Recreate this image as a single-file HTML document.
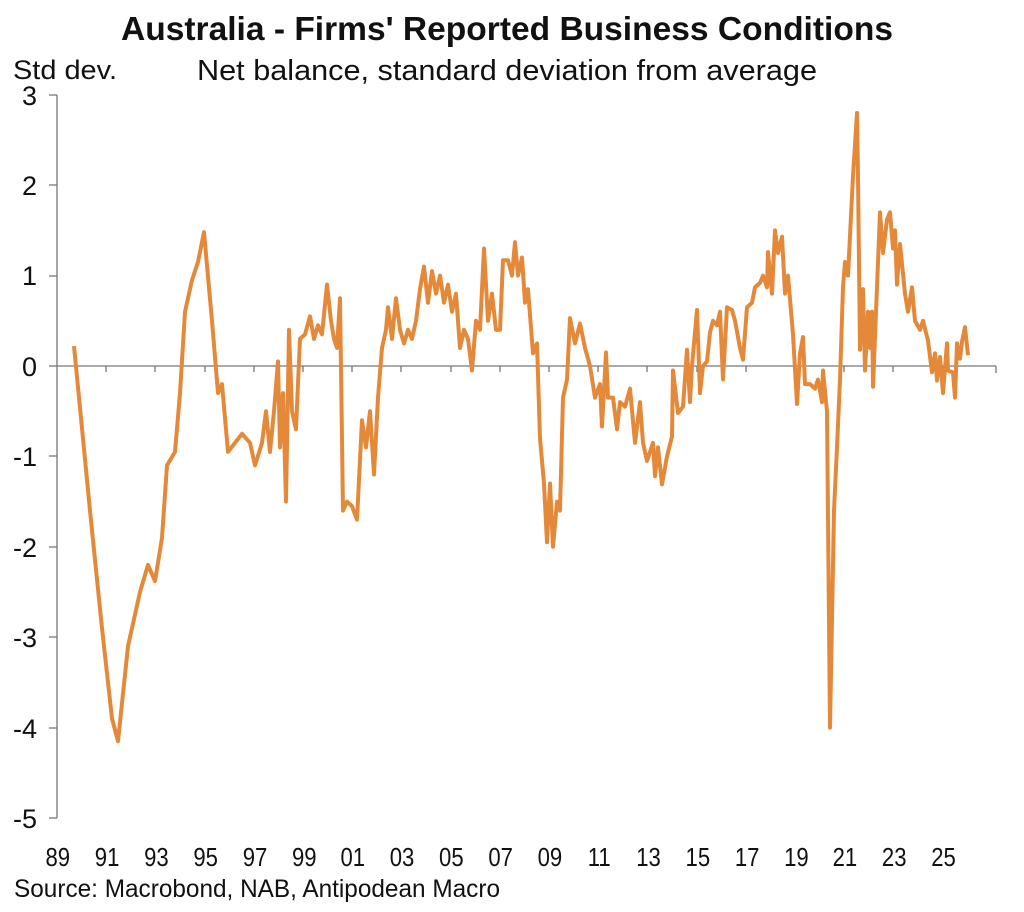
<!DOCTYPE html>
<html><head><meta charset="utf-8"><style>
body{margin:0;background:#fff;}
svg{display:block;font-family:"Liberation Sans",Arial,sans-serif;}
</style></head><body>
<svg width="1024" height="912" viewBox="0 0 1024 912" xmlns="http://www.w3.org/2000/svg">
<text x="507" y="40" text-anchor="middle" font-size="33" font-weight="bold" fill="#111" textLength="772" lengthAdjust="spacingAndGlyphs">Australia - Firms' Reported Business Conditions</text>
<text x="507" y="80" text-anchor="middle" font-size="29" fill="#111" textLength="620" lengthAdjust="spacingAndGlyphs">Net balance, standard deviation from average</text>
<text x="13" y="79" font-size="27" fill="#111" textLength="104" lengthAdjust="spacingAndGlyphs">Std dev.</text>
<g font-size="27" fill="#111" text-anchor="end">
<text x="37" y="105">3</text><text x="37" y="195">2</text><text x="37" y="285">1</text><text x="37" y="376">0</text>
<text x="37" y="466">-1</text><text x="37" y="557">-2</text><text x="37" y="647">-3</text><text x="37" y="738">-4</text><text x="37" y="828">-5</text>
</g>
<g stroke="#777" stroke-width="1.3" fill="none">
<line x1="57" y1="95" x2="57" y2="818"/>
<line x1="49" y1="95" x2="57" y2="95"/><line x1="49" y1="185" x2="57" y2="185"/><line x1="49" y1="276" x2="57" y2="276"/>
<line x1="49" y1="366" x2="57" y2="366"/><line x1="49" y1="456" x2="57" y2="456"/><line x1="49" y1="547" x2="57" y2="547"/>
<line x1="49" y1="637" x2="57" y2="637"/><line x1="49" y1="728" x2="57" y2="728"/><line x1="49" y1="818" x2="57" y2="818"/>
<line x1="57" y1="366" x2="996" y2="366"/>
<path d="M106 366v6M155 366v6M205 366v6M254 366v6M303 366v6M352 366v6M401 366v6M451 366v6M500 366v6M549 366v6M598 366v6M647 366v6M697 366v6M746 366v6M795 366v6M844 366v6M893 366v6M943 366v6M996 366v7"/>
</g>
<g font-size="26" fill="#111" text-anchor="middle" transform="scale(0.85,1)">
<text x="68" y="866">89</text><text x="126" y="866">91</text><text x="184" y="866">93</text><text x="242" y="866">95</text>
<text x="300" y="866">97</text><text x="358" y="866">99</text><text x="415" y="866">01</text><text x="473" y="866">03</text>
<text x="531" y="866">05</text><text x="589" y="866">07</text><text x="647" y="866">09</text><text x="705" y="866">11</text>
<text x="763" y="866">13</text><text x="821" y="866">15</text><text x="879" y="866">17</text><text x="937" y="866">19</text>
<text x="994" y="866">21</text><text x="1052" y="866">23</text><text x="1110" y="866">25</text>
</g>
<text x="14" y="897" font-size="25" fill="#111" textLength="486" lengthAdjust="spacingAndGlyphs">Source: Macrobond, NAB, Antipodean Macro</text>
<g transform="translate(0,366) scale(1,-90.4)">
<polyline fill="none" stroke="#E4893A" stroke-width="4" stroke-linejoin="round" vector-effect="non-scaling-stroke" points="
74,0.22 90,-1.6 102,-2.9 112,-3.9 118,-4.15 128,-3.1 140,-2.5 148,-2.2 155,-2.38 162,-1.9 167,-1.1 175,-0.95 180,-0.3 185,0.6 192,0.95 198,1.15 204,1.48 212,0.5 218,-0.3 222,-0.2 228,-0.95 235,-0.85 242,-0.75 250,-0.85 255,-1.1 262,-0.85 266,-0.5 270,-0.95 274,-0.5 278,0.05 280,-0.9 283,-0.3 286,-1.5 289,0.4 292,-0.5 296,-0.7 300,0.3 305,0.35 310,0.55 314,0.3 318,0.45 322,0.35 327,0.9 331,0.5 334,0.3 337,0.2 340,0.75 343,-1.6 347,-1.5 352,-1.55 357,-1.7 362,-0.6 366,-0.9 370,-0.5 374,-1.2 378,-0.35 382,0.2 386,0.4 388,0.65 392,0.3 396,0.75 400,0.4 404,0.25 408,0.4 412,0.3 416,0.5 420,0.85 424,1.1 428,0.7 432,1.05 436,0.8 440,1.0 444,0.7 448,0.9 452,0.6 456,0.8 460,0.2 464,0.4 468,0.3 472,-0.05 476,0.5 480,0.4 484,1.3 488,0.5 492,0.8 496,0.4 500,0.4 503,1.17 508,1.17 512,1.0 515,1.37 518,1.0 522,1.2 525,0.7 528,0.85 533,0.14 537,0.25 540,-0.8 544,-1.3 547,-1.95 550,-1.3 553,-2.0 557,-1.5 560,-1.6 563,-0.35 567,-0.15 570,0.53 575,0.25 580,0.47 585,0.2 590,0.0 595,-0.35 600,-0.2 602,-0.67 606,0.15 608,-0.35 613,-0.35 617,-0.7 620,-0.4 625,-0.45 630,-0.25 635,-0.85 640,-0.4 643,-0.85 647,-1.05 653,-0.85 655,-1.22 658,-0.9 662,-1.31 667,-1.0 672,-0.78 673,-0.05 678,-0.52 683,-0.45 687,0.18 690,-0.4 692,0.0 697,0.62 700,-0.3 703,0.0 707,0.05 710,0.37 713,0.5 717,0.45 720,0.6 723,-0.15 727,0.65 732,0.62 735,0.5 740,0.2 743,0.07 747,0.65 752,0.7 755,0.87 760,0.92 763,1.0 767,0.87 768,1.26 772,0.8 775,1.5 778,1.25 782,1.43 785,0.8 788,1.0 793,0.35 797,-0.42 800,0.14 803,0.32 805,-0.2 810,-0.2 815,-0.25 818,-0.15 822,-0.4 823,-0.05 827,-0.5 830,-4.0 834,-1.6 837,-0.9 840,-0.15 843,0.87 845,1.15 848,1.0 853,2.1 857,2.8 858,2.1 860,0.18 863,0.85 865,-0.05 868,0.6 870,0.2 872,0.6 873,-0.23 877,0.87 880,1.7 883,1.25 887,1.62 890,1.7 893,1.3 895,1.5 897,0.9 900,1.35 905,0.8 908,0.6 912,0.87 915,0.5 920,0.4 923,0.5 928,0.28 932,-0.07 935,0.14 937,-0.16 940,0.1 943,-0.3 947,0.25 948,-0.05 953,-0.07 955,-0.35 957,0.25 960,0.08 962,0.27 965,0.43 968,0.12"/>
</g>
</svg>
</body></html>
